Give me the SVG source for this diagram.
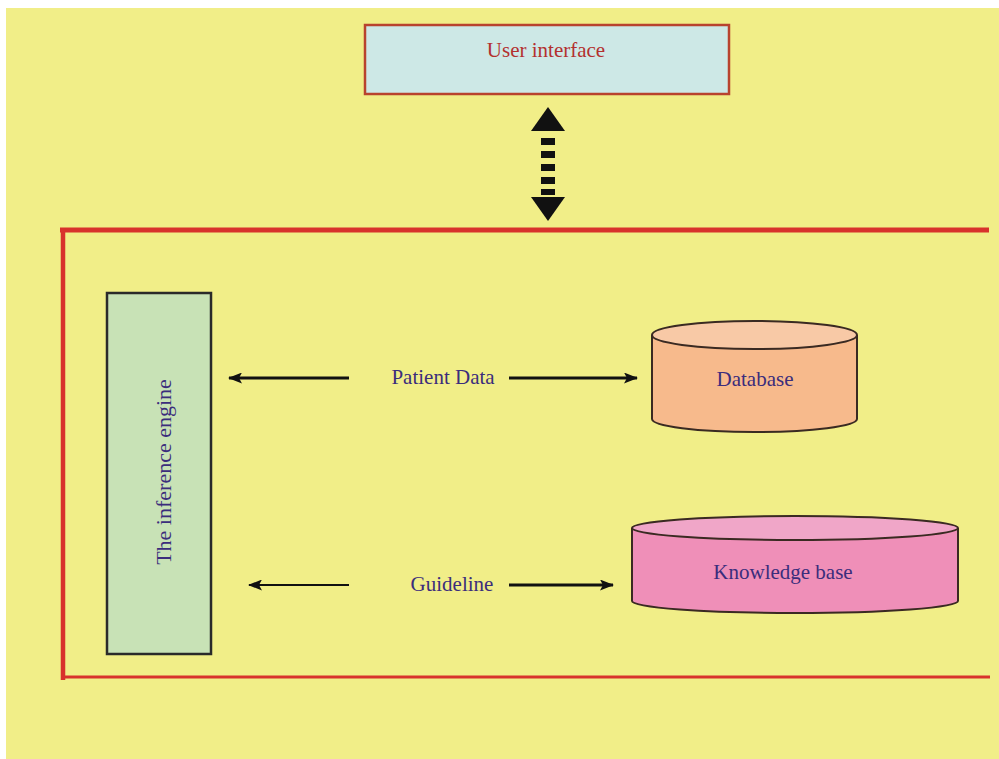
<svg xmlns="http://www.w3.org/2000/svg" width="999" height="759" viewBox="0 0 999 759">
<style>
.t{font-family:"Liberation Serif","Times New Roman",serif;font-size:21px;fill:#3b2d7c}
.frame{stroke:#d8322c;fill:none}
.conn{stroke:#111;fill:none}
</style>
<defs>
<marker id="ah" viewBox="0 0 14 11" refX="13" refY="5.5" markerWidth="14" markerHeight="11" markerUnits="userSpaceOnUse" orient="auto-start-reverse">
<path d="M0,0 L14,5.5 L0,11 L3,5.5 Z" fill="#111"/>
</marker>
</defs>
<rect x="0" y="0" width="999" height="759" fill="#ffffff"/>
<rect x="6" y="8" width="993" height="751" fill="#f1ee88"/>
<g id="frame">
<line class="frame" x1="60" y1="230" x2="989" y2="230" stroke-width="5"/>
<line class="frame" x1="63" y1="228" x2="63" y2="680" stroke-width="4.5"/>
<line class="frame" x1="61" y1="677" x2="990" y2="677" stroke-width="3"/>
</g>
<g id="user-interface">
<rect x="365" y="25" width="364" height="69" fill="#cde8e6" stroke="#b8432e" stroke-width="2.5"/>
<text class="t" x="546" y="57" text-anchor="middle" style="fill:#b3302f">User interface</text>
</g>
<g id="inference-engine">
<rect x="107" y="293" width="104" height="361" fill="#c8e2b6" stroke="#2a2a2a" stroke-width="2.5"/>
<text class="t" transform="translate(171,472) rotate(-90)" text-anchor="middle" style="font-size:22px">The inference engine</text>
</g>
<g id="database">
<path d="M652,335 L652,419 A102.5,13 0 0 0 857,419 L857,335" fill="#f7ba8c" stroke="#3a2a22" stroke-width="2"/>
<ellipse cx="754.5" cy="335" rx="102.5" ry="14" fill="#f8c9a6" stroke="#3a2a22" stroke-width="2"/>
<text class="t" x="755" y="386" text-anchor="middle">Database</text>
</g>
<g id="knowledge-base">
<path d="M632,528 L632,601 A163,12 0 0 0 958,601 L958,528" fill="#ef8fb8" stroke="#3a2a22" stroke-width="2"/>
<ellipse cx="795" cy="528" rx="163" ry="12" fill="#f0a6c8" stroke="#3a2a22" stroke-width="2"/>
<text class="t" x="783" y="579" text-anchor="middle">Knowledge base</text>
</g>
<g id="connectors">
<line class="conn" x1="349" y1="378" x2="229" y2="378" stroke-width="3" marker-end="url(#ah)"/>
<line class="conn" x1="509" y1="378" x2="637" y2="378" stroke-width="3" marker-end="url(#ah)"/>
<line class="conn" x1="349" y1="585" x2="249" y2="585" stroke-width="2" marker-end="url(#ah)"/>
<line class="conn" x1="509" y1="585" x2="613" y2="585" stroke-width="3" marker-end="url(#ah)"/>
<g id="ui-link" fill="#111">
<path d="M548,107 L565,131 L531,131 Z"/>
<rect x="541" y="138" width="14" height="7"/>
<rect x="541" y="151" width="14" height="7"/>
<rect x="541" y="164" width="14" height="7"/>
<rect x="541" y="177" width="14" height="7"/>
<rect x="541" y="189" width="14" height="6"/>
<path d="M531,197 L565,197 L548,221 Z"/>
</g>
</g>
<text class="t" x="443" y="384" text-anchor="middle">Patient Data</text>
<text class="t" x="452" y="591" text-anchor="middle">Guideline</text>
</svg>
